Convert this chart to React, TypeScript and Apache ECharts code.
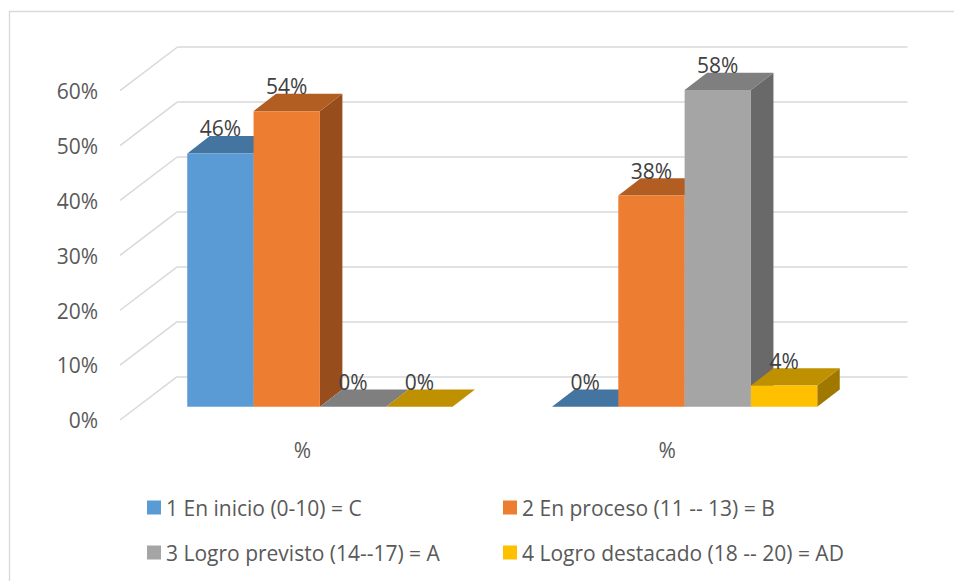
import React, { useEffect, useRef } from "react";
import * as echarts from "echarts";

const categories = ["%", "%"];
const yTicks = [0, 10, 20, 30, 40, 50, 60];
const seriesNames = [
  "1 En inicio (0-10) = C",
  "2 En proceso (11 -- 13) = B",
  "3 Logro previsto (14--17) = A",
  "4 Logro destacado (18 -- 20) = AD",
];
const enInicio = [46.15, 0];
const enProceso = [53.85, 38.46];
const logroPrevisto = [0, 57.69];
const logroDestacado = [0, 3.85];
const frontColors = ["#5B9BD5", "#ED7D31", "#A5A5A5", "#FFC000"];
const topColors = ["#4475A0", "#B25E23", "#7F7F7F", "#BF9000"];
const sideColors = ["#375E80", "#974D1C", "#696969", "#A07800"];

const FONT = "'Open Sans', sans-serif";
const TEXT = "#595959";
const GRID = "#D9D9D9";

function barSeries(name: string, values: number[], idx: number) {
  return {
    type: "custom",
    name,
    xAxisIndex: 2,
    yAxisIndex: 2,
    clip: false,
    z: 5 + idx,
    itemStyle: { color: frontColors[idx] },
    data: values.map((v, i) => [i, v]),
    renderItem: (_p: any, api: any) => {
      const cat = api.value(0);
      const val = api.value(1);
      const top = api.coord([cat, val]);
      const base = api.coord([cat, 0]);
      const w = api.size([1, 0])[0] / 5.5;
      const x0 = top[0] - 2 * w + idx * w;
      const x1 = x0 + w;
      const dx = 22.5;
      const dy = 17.3;
      const yT = top[1];
      const yB = base[1];
      const children: any[] = [
        {
          type: "polygon",
          shape: { points: [[x1, yT], [x1 + dx, yT - dy], [x1 + dx, yB - dy], [x1, yB]] },
          style: { fill: sideColors[idx] },
        },
        {
          type: "polygon",
          shape: { points: [[x0, yT], [x0 + dx, yT - dy], [x1 + dx, yT - dy], [x1, yT]] },
          style: { fill: topColors[idx] },
        },
        {
          type: "rect",
          shape: { x: x0, y: yT, width: w, height: yB - yT },
          style: { fill: frontColors[idx] },
        },
        {
          type: "text",
          style: {
            text: Math.round(val) + "%",
            x: (x0 + x1) / 2,
            y: yT - 25,
            align: "center",
            verticalAlign: "middle",
            fill: "#404040",
            fontSize: 21,
            fontFamily: FONT,
          },
        },
      ];
      return { type: "group", children };
    },
  };
}

export default function App() {
  const ref = useRef<HTMLDivElement>(null);
  useEffect(() => {
    const chart = echarts.init(ref.current!, undefined, { renderer: "svg" });
    const valueAxis = (gridIndex: number, extra: any) => ({
      type: "value",
      gridIndex,
      min: 0,
      max: 60,
      interval: 10,
      axisLine: { show: false },
      axisTick: { show: false },
      axisLabel: { show: false },
      splitLine: { show: false },
      ...extra,
    });
    const catAxis = (gridIndex: number, extra: any) => ({
      type: "category",
      gridIndex,
      data: categories,
      axisLine: { show: false },
      axisTick: { show: false },
      axisLabel: { show: false },
      splitLine: { show: false },
      ...extra,
    });
    const legendBase = {
      orient: "vertical",
      icon: "rect",
      itemWidth: 14,
      itemHeight: 14,
      itemGap: 24,
      padding: 0,
      selectedMode: false,
      textStyle: { fontSize: 21, color: TEXT, fontFamily: FONT },
      top: 497,
    };
    chart.setOption({
      animation: false,
      backgroundColor: "#ffffff",
      graphic: [
        {
          type: "polyline",
          silent: true,
          shape: { points: [[9.5, 581], [9.5, 11.5], [954, 11.5]] },
          style: { stroke: GRID, lineWidth: 1.3, fill: "none" },
        },
      ],
      grid: [
        { left: 177.5, top: 47, width: 730, height: 329.3 },
        { left: 120, top: 91, width: 729.5, height: 329.3 },
        { left: 137.5, top: 77.4, width: 729.5, height: 329.3 },
      ],
      xAxis: [
        catAxis(0, {}),
        catAxis(1, {
          axisLabel: {
            show: true,
            margin: 19,
            fontSize: 21,
            color: TEXT,
            fontFamily: FONT,
            interval: 0,
          },
        }),
        catAxis(2, {}),
      ],
      yAxis: [
        valueAxis(0, { splitLine: { show: true, lineStyle: { color: GRID, width: 1.5 } } }),
        valueAxis(1, {
          axisLabel: {
            show: true,
            margin: 22,
            fontSize: 21,
            color: TEXT,
            fontFamily: FONT,
            formatter: "{value}%",
          },
        }),
        valueAxis(2, {}),
      ],
      legend: [
        { ...legendBase, left: 147, data: [seriesNames[0], seriesNames[2]] },
        { ...legendBase, left: 503, data: [seriesNames[1], seriesNames[3]] },
      ],
      series: [
        {
          type: "custom",
          name: "walls",
          xAxisIndex: 0,
          yAxisIndex: 0,
          clip: false,
          silent: true,
          z: 1,
          data: yTicks.map((t) => [0, t]),
          renderItem: (p: any, api: any) => {
            const y = api.coord([0, api.value(1)])[1];
            const x = p.coordSys.x;
            return {
              type: "line",
              shape: { x1: x, y1: y, x2: x - 57.5, y2: y + 43.7 },
              style: { stroke: GRID, lineWidth: 1.5, fill: "none" },
            };
          },
        },
        barSeries(seriesNames[0], enInicio, 0),
        barSeries(seriesNames[1], enProceso, 1),
        barSeries(seriesNames[2], logroPrevisto, 2),
        barSeries(seriesNames[3], logroDestacado, 3),
      ],
    });
    return () => chart.dispose();
  }, []);
  return (
    <div
      ref={ref}
      style={{ position: "absolute", left: 0, top: 0, width: 954, height: 581 }}
    />
  );
}
